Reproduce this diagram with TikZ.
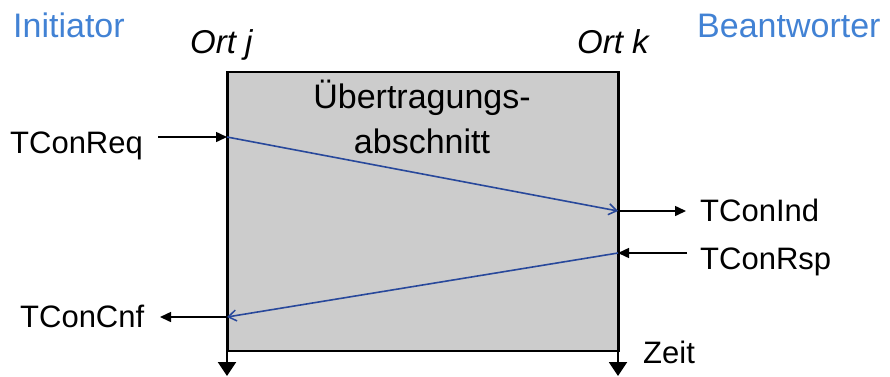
\documentclass[tikz,border=0pt]{standalone}
\usepackage{fontspec}
\setmainfont{Liberation Sans}
\usetikzlibrary{arrows.meta}
\definecolor{headblue}{RGB}{66,130,212}
\definecolor{msgblue}{RGB}{40,72,155}
\definecolor{boxgray}{RGB}{204,204,204}
\tikzset{
  lbl/.style={inner sep=0pt, anchor=base west, font=\fontsize{31}{37}\selectfont},
  head/.style={inner sep=0pt, anchor=base west, text=headblue, font=\fontsize{34}{40}\selectfont},
  ort/.style={inner sep=0pt, anchor=base west, font=\itshape\fontsize{33}{40}\selectfont},
  axis/.style={line width=2pt, -{Triangle[length=14pt,width=18pt]}},
  sig/.style={line width=1.5pt, -{Triangle[length=11pt,width=10pt]}},
  msg/.style={line width=1.6pt, draw=msgblue, -{Straight Barb[length=8pt,width=11pt,line width=1.5pt]}}
}
\begin{document}
\begin{tikzpicture}[x=1pt,y=-1pt]
\useasboundingbox (0,0) rectangle (890,376);
% box
\node[draw=black, line width=1.5pt, fill=boxgray, inner sep=0pt, minimum width=391pt, minimum height=279pt, anchor=north west] (box) at (227,71) {};
% axes
\coordinate (jtop) at (227,71);
\coordinate (jbot) at (227,376);
\coordinate (ktop) at (618,71);
\coordinate (kbot) at (618,376);
\draw[axis] (jtop) -- (jbot);
\draw[axis] (ktop) -- (kbot);
% headings
\node[head] (init) at (13,37) {Initiator};
\node[head] (beant) at (697,37) {Beantworter};
\node[ort] (ortj) at (190,53) {Ort j};
\node[ort] (ortk) at (577,53) {Ort k};
\node[inner sep=0pt, align=center, font=\fontsize{34}{45}\selectfont, anchor=base] (ueb) at (422,153) {Übertragungs-\\abschnitt};
% points
\coordinate (reqj) at (227,137);
\coordinate (indk) at (618,211);
\coordinate (rspk) at (618,253);
\coordinate (cnfj) at (227,317);
\coordinate (reqs) at (158,137);
\coordinate (inde) at (686,211);
\coordinate (rsps) at (687,253);
\coordinate (cnfe) at (160,317);
% labels
\node[lbl] (treq) at (10,153) {TConReq};
\node[lbl] (tind) at (700,221) {TConInd};
\node[lbl] (trsp) at (700,269) {TConRsp};
\node[lbl] (tcnf) at (20,327) {TConCnf};
\node[lbl] (zeit) at (643,363) {Zeit};
% signals
\draw[sig] (reqs) -- (reqj);
\draw[sig] (indk) -- (inde);
\draw[sig] (rsps) -- (rspk);
\draw[sig] (cnfj) -- (cnfe);
\draw[msg] (reqj) -- (indk);
\draw[msg] (rspk) -- (cnfj);
\end{tikzpicture}
\end{document}
